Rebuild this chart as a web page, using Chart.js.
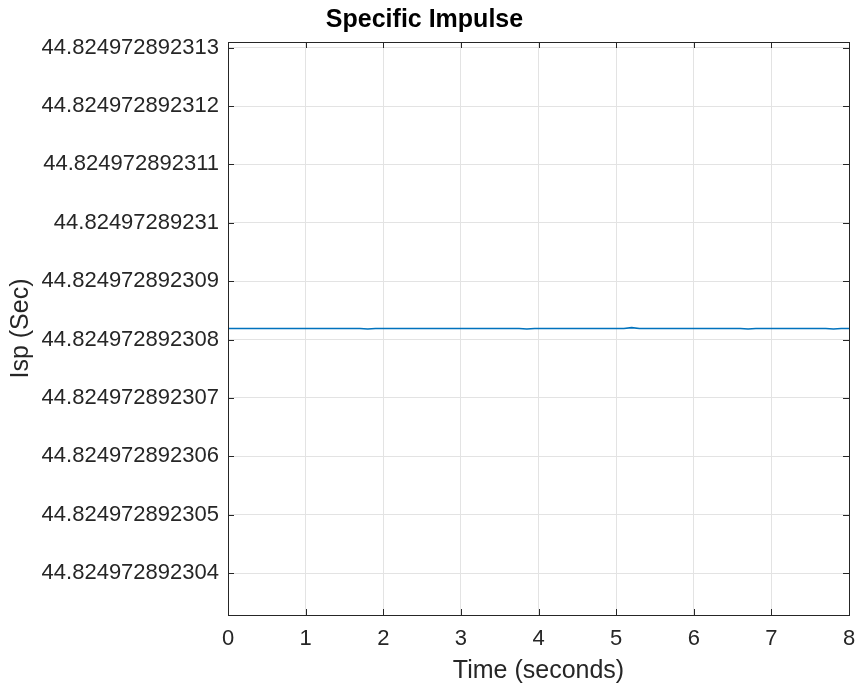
<!DOCTYPE html>
<html>
<head>
<meta charset="utf-8">
<script src="https://cdn.jsdelivr.net/npm/chart.js@4.4.0/dist/chart.umd.min.js"></script>
<style>
    body { margin: 0; background: #ffffff; }
    #wrap { width: 859px; height: 694px; }
</style>
</head>
<body>
<div id="wrap"><canvas id="ispChart" width="859" height="694"></canvas></div>
<script>
// Specific Impulse vs time
const timeSec = [0, 1, 1.7, 1.8, 1.9, 3.75, 3.85, 3.95, 5.1, 5.2, 5.3, 6.6, 6.7, 6.8, 7.7, 7.8, 7.9, 8];
const ispValues = [
    44.82497289230819, 44.82497289230819, 44.82497289230819, 44.82497289230818, 44.82497289230819,
    44.82497289230819, 44.82497289230818, 44.82497289230819, 44.82497289230819, 44.82497289230820,
    44.82497289230819, 44.82497289230819, 44.82497289230818, 44.82497289230819, 44.82497289230819,
    44.82497289230818, 44.82497289230819, 44.82497289230819
];
const xTicks = [0, 1, 2, 3, 4, 5, 6, 7, 8];
const yTickValues = [44.824972892304, 44.824972892305, 44.824972892306, 44.824972892307, 44.824972892308,
    44.824972892309, 44.82497289231, 44.824972892311, 44.824972892312, 44.824972892313];
const yTickLabels = ['44.824972892304', '44.824972892305', '44.824972892306', '44.824972892307', '44.824972892308',
    '44.824972892309', '44.82497289231', '44.824972892311', '44.824972892312', '44.824972892313'];
const yLimits = [44.82497289230328, 44.8249728923131];

// values differ only in the 12th decimal, so plot offsets in units of 1e-12
const yBase = 44.8249728923;
const toOffset = v => Math.round((v - yBase) * 1e15) / 1000;

const fontFamily = '"Liberation Sans", Arial, Helvetica, sans-serif';
const textColor = '#262626';
const gridColor = '#e3e3e3';

// MATLAB style box with inward tick marks
const boxPlugin = {
    id: 'matlabBox',
    afterDraw(chart) {
        const ctx = chart.ctx;
        const a = chart.chartArea;
        const xs = chart.scales.x;
        const ys = chart.scales.y;
        const len = 6;
        ctx.save();
        ctx.strokeStyle = textColor;
        ctx.lineWidth = 1;
        ctx.beginPath();
        xs.ticks.forEach(t => {
            const px = Math.round(xs.getPixelForValue(t.value)) + 0.5;
            ctx.moveTo(px, a.bottom); ctx.lineTo(px, a.bottom - len);
            ctx.moveTo(px, a.top); ctx.lineTo(px, a.top + len);
        });
        ys.ticks.forEach(t => {
            const py = Math.round(ys.getPixelForValue(t.value)) + 0.5;
            ctx.moveTo(a.left, py); ctx.lineTo(a.left + len, py);
            ctx.moveTo(a.right, py); ctx.lineTo(a.right - len, py);
        });
        ctx.stroke();
        ctx.strokeRect(Math.round(a.left) + 0.5, Math.round(a.top) + 0.5,
            Math.round(a.right - a.left), Math.round(a.bottom - a.top));
        ctx.restore();
    }
};

const ctx = document.getElementById('ispChart').getContext('2d');
new Chart(ctx, {
    type: 'scatter',
    data: {
        datasets: [{
            label: 'Isp',
            data: timeSec.map((t, i) => ({ x: t, y: toOffset(ispValues[i]) })),
            showLine: true,
            borderColor: '#0072BD',
            borderWidth: 1.6,
            pointRadius: 0,
            tension: 0
        }]
    },
    options: {
        responsive: false,
        animation: false,
        layout: { padding: { left: 0, right: 10, top: 0, bottom: 0 } },
        plugins: {
            legend: { display: false },
            tooltip: { enabled: false },
            title: {
                display: true,
                text: 'Specific Impulse',
                color: '#000000',
                font: { family: fontFamily, size: 25, weight: 'bold' },
                padding: { top: 5, bottom: 7 }
            }
        },
        scales: {
            x: {
                type: 'linear',
                min: 0,
                max: 8,
                afterBuildTicks: scale => { scale.ticks = xTicks.map(v => ({ value: v })); },
                afterFit: scale => { scale.height = 79; scale.paddingRight = 0; scale.paddingLeft = 0; },
                ticks: {
                    color: textColor,
                    font: { family: fontFamily, size: 22 },
                    padding: 11,
                    callback: v => String(v)
                },
                grid: { color: gridColor, drawTicks: false },
                border: { display: false },
                title: {
                    display: true,
                    text: 'Time (seconds)',
                    color: textColor,
                    font: { family: fontFamily, size: 25 },
                    padding: { top: 0, bottom: 8 }
                }
            },
            y: {
                type: 'linear',
                min: toOffset(yLimits[0]),
                max: toOffset(yLimits[1]),
                afterBuildTicks: scale => { scale.ticks = yTickValues.map(v => ({ value: toOffset(v) })); },
                afterFit: scale => { scale.width = 228; },
                ticks: {
                    color: textColor,
                    font: { family: fontFamily, size: 22 },
                    padding: 9,
                    callback: (v, i) => yTickLabels[i]
                },
                grid: { color: gridColor, drawTicks: false },
                border: { display: false },
                title: {
                    display: true,
                    text: 'Isp (Sec)',
                    color: textColor,
                    font: { family: fontFamily, size: 25 },
                    padding: { top: 6, bottom: 0 }
                }
            }
        }
    },
    plugins: [boxPlugin]
});
</script>
</body>
</html>
